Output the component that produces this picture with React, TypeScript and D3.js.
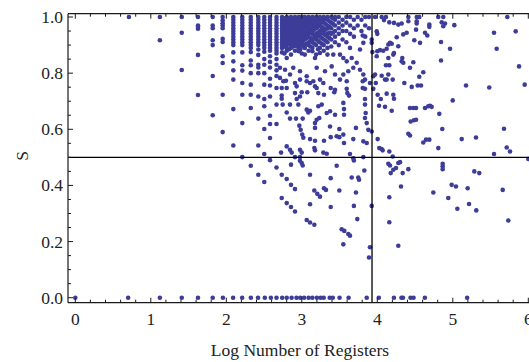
import React from "react";
import * as d3 from "d3";

// Canvas
const WIDTH = 529;
const HEIGHT = 362;

// Axis ticks
const xTickValues = [0, 1, 2, 3, 4, 5, 6];
const yTickValues = [0, 0.2, 0.4, 0.6, 0.8, 1.0];

// Reference lines
const thresholdLogN = 3.93;
const thresholdS = 0.5;

// Points lying on S = 0
const baselineLogN = [
  0, 0.7, 1.12, 1.41, 1.625, 1.82, 1.955, 2.09, 2.21, 2.325, 2.42, 2.51, 2.59, 2.665,
  2.74, 2.8, 2.865, 2.93, 2.98, 3.03, 3.09, 3.14, 3.2, 3.25, 3.29, 3.37, 3.41, 3.5,
  3.62, 3.86, 4.02, 4.22, 4.32, 4.34, 4.44, 4.48, 4.63, 5.19,
];

// Columns of points sharing one log register count
const columnLogN = [
  0.71, 1.12, 1.41, 1.625, 1.82, 1.952, 2.093, 2.212, 2.324, 2.424, 2.503, 2.579, 2.665,
  2.738, 2.8, 2.857, 2.91, 2.96, 3.0, 3.04, 3.09, 3.14, 3.19, 3.24, 3.29, 3.34, 3.39,
  3.44, 3.49, 3.54, 3.59, 3.64, 3.69, 3.74, 3.79, 3.84, 3.89,
  2.77, 2.83, 2.885, 2.935, 2.98, 3.02, 3.065, 3.115, 3.165, 3.215, 3.265, 3.315, 3.365, 3.415,
];

const columnS = [
  [1],
  [1, 0.917],
  [1, 0.944, 0.811],
  [1, 0.97, 0.965, 0.958, 0.865, 0.722],
  [1, 0.97, 0.96, 0.917, 0.9, 0.79, 0.65],
  [1, 0.988, 0.978, 0.97, 0.96, 0.922, 0.911, 0.86, 0.836, 0.723, 0.59],
  [1, 0.99, 0.98, 0.97, 0.96, 0.95, 0.94, 0.93, 0.92, 0.91, 0.9, 0.874, 0.842, 0.81, 0.777, 0.672, 0.542],
  [1, 0.99, 0.98, 0.97, 0.96, 0.95, 0.94, 0.93, 0.92, 0.91, 0.9, 0.874, 0.828, 0.809, 0.765, 0.723, 0.622, 0.501],
  [1, 0.99, 0.98, 0.97, 0.96, 0.95, 0.94, 0.93, 0.92, 0.91, 0.9, 0.89, 0.875, 0.845, 0.828, 0.8, 0.759, 0.723, 0.676, 0.47],
  [1, 0.99, 0.98, 0.97, 0.96, 0.95, 0.94, 0.93, 0.92, 0.91, 0.9, 0.884, 0.865, 0.83, 0.82, 0.8, 0.717, 0.638, 0.542, 0.438],
  [1, 0.99, 0.98, 0.97, 0.96, 0.95, 0.94, 0.93, 0.92, 0.91, 0.9, 0.89, 0.876, 0.85, 0.83, 0.8, 0.759, 0.708, 0.682, 0.601, 0.512, 0.412],
  [1, 0.99, 0.98, 0.97, 0.96, 0.95, 0.94, 0.93, 0.92, 0.91, 0.9, 0.89, 0.88, 0.86, 0.84, 0.82, 0.78, 0.756, 0.717, 0.648, 0.619, 0.569, 0.49],
  [1, 0.99, 0.98, 0.97, 0.96, 0.95, 0.94, 0.93, 0.92, 0.91, 0.9, 0.89, 0.88, 0.87, 0.85, 0.83, 0.81, 0.79, 0.747, 0.688, 0.619, 0.464],
  [1, 0.99, 0.98, 0.97, 0.96, 0.95, 0.94, 0.93, 0.92, 0.91, 0.9, 0.89, 0.874],
  [1, 0.99, 0.98, 0.97, 0.96, 0.95, 0.94, 0.93, 0.92, 0.91, 0.9, 0.89, 0.88, 0.854],
  [1, 0.99, 0.98, 0.97, 0.96, 0.95, 0.94, 0.93, 0.92, 0.91, 0.9, 0.89, 0.866],
  [1, 0.99, 0.98, 0.97, 0.96, 0.95, 0.94, 0.93, 0.92, 0.91, 0.9, 0.88],
  [1, 0.99, 0.98, 0.97, 0.96, 0.95, 0.94, 0.93, 0.92, 0.91, 0.9, 0.89, 0.878],
  [1, 0.99, 0.98, 0.97, 0.96, 0.95, 0.94, 0.93, 0.92, 0.91, 0.9, 0.87],
  [1, 0.99, 0.98, 0.97, 0.96, 0.95, 0.94, 0.93, 0.92, 0.9, 0.89, 0.866],
  [1, 0.99, 0.98, 0.97, 0.96, 0.95, 0.94, 0.93, 0.91, 0.9, 0.88],
  [1, 0.99, 0.98, 0.97, 0.96, 0.95, 0.94, 0.92, 0.91, 0.89, 0.878],
  [1, 0.99, 0.98, 0.97, 0.96, 0.94, 0.93, 0.92, 0.9, 0.866],
  [1, 0.99, 0.98, 0.97, 0.95, 0.94, 0.93, 0.91, 0.89, 0.872],
  [1, 0.99, 0.98, 0.96, 0.95, 0.94, 0.92, 0.9, 0.88],
  [1, 0.99, 0.97, 0.96, 0.94, 0.93, 0.91, 0.89, 0.866],
  [1, 0.98, 0.96, 0.94, 0.92, 0.895],
  [1, 0.99, 0.97, 0.95, 0.93, 0.91],
  [1, 0.98, 0.96, 0.94, 0.9],
  [0.99, 0.97, 0.95, 0.92],
  [1, 0.98, 0.95, 0.91],
  [1, 0.97, 0.94],
  [0.99, 0.96, 0.93],
  [1, 0.97],
  [0.99, 0.95],
  [1, 0.97, 0.93],
  [1, 0.96],
  [0.995, 0.985, 0.975, 0.965, 0.955, 0.945, 0.935, 0.925, 0.915, 0.905, 0.895, 0.87],
  [0.995, 0.985, 0.975, 0.965, 0.955, 0.945, 0.935, 0.925, 0.915, 0.905, 0.885],
  [0.995, 0.985, 0.975, 0.965, 0.955, 0.945, 0.935, 0.925, 0.915, 0.905, 0.895],
  [0.995, 0.985, 0.975, 0.965, 0.955, 0.945, 0.935, 0.925, 0.915, 0.895],
  [0.995, 0.985, 0.975, 0.965, 0.955, 0.945, 0.935, 0.925, 0.905, 0.885],
  [0.995, 0.985, 0.975, 0.965, 0.955, 0.945, 0.925, 0.915, 0.895],
  [0.995, 0.985, 0.975, 0.965, 0.945, 0.935, 0.925, 0.905],
  [0.995, 0.985, 0.975, 0.955, 0.945, 0.925, 0.915, 0.895],
  [0.995, 0.985, 0.965, 0.955, 0.935, 0.925, 0.905],
  [0.995, 0.975, 0.965, 0.945, 0.935, 0.915, 0.885],
  [0.995, 0.985, 0.965, 0.955, 0.925, 0.905],
  [0.995, 0.975, 0.955, 0.935, 0.915],
  [0.985, 0.965, 0.945, 0.925],
  [0.995, 0.975, 0.945],
];

// Scattered points left of the register threshold
const innerPoints: [number, number][] = [
  [3.175, 0.854], [3.417, 0.866], [3.506, 0.866], [3.55, 0.854], [3.595, 0.842], [3.661, 0.854],
  [3.727, 0.837], [3.638, 0.89], [3.771, 0.884], [3.807, 0.934], [3.815, 0.908], [3.935, 0.875],
  [2.711, 0.819], [2.778, 0.812], [2.887, 0.819], [2.844, 0.795], [2.976, 0.807], [3.065, 0.789],
  [3.197, 0.819], [3.307, 0.807], [3.396, 0.824], [3.44, 0.795], [3.55, 0.795], [3.616, 0.807],
  [3.682, 0.819], [3.771, 0.812], [3.815, 0.795], [3.837, 0.777],
  [2.711, 0.783], [2.755, 0.771], [2.976, 0.777], [3.152, 0.771], [3.241, 0.777], [3.506, 0.777],
  [2.79, 0.773], [2.734, 0.747], [2.8, 0.747], [2.91, 0.765], [2.932, 0.753], [3.065, 0.771],
  [3.109, 0.765], [3.175, 0.753], [3.285, 0.765], [3.383, 0.747], [3.44, 0.741], [3.595, 0.771],
  [3.595, 0.744], [3.807, 0.771], [3.807, 0.747], [3.837, 0.744], [3.903, 0.765],
  [2.734, 0.72], [2.734, 0.709], [2.91, 0.729], [2.999, 0.732], [3.073, 0.732], [2.932, 0.708],
  [2.976, 0.717], [3.219, 0.729], [3.294, 0.723], [3.197, 0.747], [3.43, 0.732], [3.603, 0.729],
  [3.625, 0.72], [3.837, 0.708],
  [2.747, 0.688], [2.844, 0.688], [2.8, 0.66], [2.954, 0.688], [3.065, 0.67], [3.086, 0.66],
  [3.109, 0.666], [3.219, 0.682], [3.264, 0.688], [3.33, 0.658], [3.374, 0.664], [3.44, 0.652],
  [3.55, 0.694], [3.559, 0.672], [3.559, 0.652], [3.837, 0.688], [3.846, 0.658],
  [2.844, 0.638], [2.923, 0.638], [3.012, 0.638], [2.967, 0.613], [2.985, 0.598], [3.006, 0.581],
  [3.02, 0.57], [3.175, 0.622], [3.197, 0.634], [3.232, 0.64], [3.175, 0.605], [3.374, 0.61],
  [3.497, 0.601], [3.462, 0.575], [3.55, 0.581], [3.717, 0.605], [3.837, 0.64], [3.86, 0.622],
  [3.881, 0.598],
  [3.109, 0.565], [3.175, 0.559], [3.294, 0.559], [3.383, 0.572], [3.497, 0.572], [3.559, 0.551],
  [3.682, 0.565], [3.815, 0.557], [3.86, 0.551],
  [2.725, 0.517], [2.8, 0.539], [2.844, 0.527], [2.866, 0.517], [2.976, 0.527], [2.999, 0.517],
  [3.166, 0.533], [3.175, 0.525], [3.285, 0.517], [3.33, 0.513],
  [2.91, 0.501], [2.976, 0.501], [3.682, 0.497], [3.815, 0.501],
  [2.734, 0.438], [2.8, 0.423], [2.857, 0.402], [2.91, 0.387], [2.857, 0.474], [2.734, 0.355],
  [2.8, 0.337], [2.857, 0.323], [2.91, 0.307], [2.976, 0.488], [2.999, 0.48], [3.012, 0.471],
  [3.109, 0.438], [3.109, 0.333], [3.166, 0.382], [3.205, 0.37], [3.241, 0.36], [3.294, 0.39],
  [3.32, 0.384], [3.065, 0.277], [3.109, 0.268], [3.166, 0.26], [3.383, 0.323], [3.383, 0.426],
  [3.462, 0.47], [3.497, 0.382], [3.528, 0.244], [3.563, 0.238], [3.616, 0.227], [3.638, 0.221],
  [3.55, 0.19], [3.661, 0.428], [3.748, 0.428], [3.758, 0.42], [3.717, 0.375], [3.69, 0.327],
  [3.735, 0.28], [3.828, 0.453], [3.69, 0.489], [3.638, 0.512], [3.926, 0.327], [3.903, 0.18],
  [3.89, 0.143], [3.926, 0.92], [3.926, 0.908], [3.926, 0.592],
];

// Scattered points right of the register threshold
const outerPoints: [number, number][] = [
  [3.97, 1], [4.058, 1], [4.089, 0.989], [4.115, 1], [4.159, 0.981], [4.221, 0.979], [4.278, 0.973],
  [4.323, 0.977], [4.411, 1], [4.411, 0.985], [4.522, 1], [4.522, 0.985], [4.522, 0.977], [4.556, 1],
  [4.689, 0.973], [4.689, 0.965], [4.808, 1], [4.853, 0.981], [4.874, 1], [4.897, 0.977],
  [4.874, 0.967], [5.02, 0.971], [5.722, 1],
  [3.992, 0.949], [4.0, 0.94], [4.389, 0.944], [4.344, 0.938], [4.257, 0.928], [4.513, 0.955],
  [4.632, 0.944], [4.662, 0.934], [5.546, 0.944], [5.833, 0.949], [4.49, 0.917], [4.566, 0.908],
  [4.844, 0.911], [4.168, 0.908], [4.146, 0.902], [4.191, 0.905], [4.278, 0.896], [4.036, 0.882],
  [4.079, 0.88], [4.0, 0.878], [4.124, 0.887], [4.221, 0.872], [4.212, 0.866], [3.992, 0.86],
  [4.146, 0.854], [4.331, 0.854], [4.323, 0.842], [4.344, 0.837], [4.477, 0.839], [4.963, 0.887],
  [5.581, 0.887], [4.844, 0.845], [4.433, 0.819], [4.115, 0.828], [4.159, 0.828], [4.609, 0.803],
  [4.556, 0.787], [5.877, 0.824], [3.97, 0.795], [3.947, 0.789], [4.058, 0.791], [4.146, 0.795],
  [4.102, 0.777], [4.124, 0.777], [4.204, 0.777], [4.358, 0.765], [4.456, 0.751], [4.535, 0.756],
  [4.579, 0.756], [5.175, 0.756], [5.483, 0.749], [5.952, 0.759], [3.947, 0.744], [3.98, 0.765],
  [4.005, 0.723], [4.124, 0.727], [4.212, 0.723], [4.221, 0.709], [4.046, 0.708], [4.023, 0.684],
  [4.102, 0.68], [4.191, 0.666], [4.999, 0.703], [4.433, 0.676], [4.477, 0.676], [4.513, 0.676],
  [4.632, 0.676], [4.675, 0.682], [4.698, 0.684], [4.72, 0.68], [4.821, 0.655], [4.442, 0.628],
  [4.486, 0.632], [4.513, 0.634], [4.861, 0.601], [5.678, 0.602], [4.411, 0.584], [4.433, 0.578],
  [4.005, 0.565], [4.026, 0.533], [4.609, 0.553], [4.645, 0.563], [4.689, 0.563], [5.118, 0.565],
  [5.307, 0.571], [4.058, 0.53], [4.071, 0.525], [4.159, 0.521], [4.808, 0.533], [5.714, 0.535],
  [5.758, 0.521], [5.546, 0.512], [4.204, 0.503],
  [4.146, 0.477], [4.168, 0.471], [4.278, 0.48], [4.301, 0.483], [4.248, 0.462], [4.212, 0.456],
  [4.178, 0.444], [4.336, 0.444], [4.411, 0.458], [4.866, 0.477], [4.866, 0.468], [4.866, 0.458],
  [5.285, 0.45], [5.351, 0.444], [4.314, 0.396], [4.159, 0.358], [4.159, 0.269], [4.278, 0.185],
  [4.742, 0.375], [4.94, 0.355], [4.985, 0.402], [5.042, 0.396], [5.06, 0.317], [5.197, 0.39],
  [5.215, 0.334], [5.311, 0.311], [5.661, 0.384], [5.735, 0.275], [6.0, 0.494],
];

const POINT_COLOR = "#3d3d99";
const AXIS_COLOR = "#1a1a1a";
const FONT = "'Liberation Serif', 'Times New Roman', serif";

export default function App() {
  const x = d3.scaleLinear().domain([-0.0967, 6.0225]).range([68, 530]);
  const y = d3.scaleLinear().domain([-0.0178, 1.0118]).range([302.7, 13.7]);

  const [x0, x1] = x.range();
  const [yBottom, yTop] = y.range();

  const points: [number, number][] = [
    ...baselineLogN.map((v) => [v, 0] as [number, number]),
    ...columnLogN.flatMap((v, i) => columnS[i].map((s) => [v, s] as [number, number])),
    ...innerPoints,
    ...outerPoints,
  ];

  const xMinor = d3.range(0, 6.01, 0.2).filter((v) => Math.abs(v - Math.round(v)) > 1e-6);
  const yMinor = d3.range(0, 1.001, 0.05).filter((v) => Math.abs(v * 5 - Math.round(v * 5)) > 1e-6);
  const fmtY = d3.format(".1f");

  return (
    <svg
      width={WIDTH}
      height={HEIGHT}
      viewBox={`0 0 ${WIDTH} ${HEIGHT}`}
      style={{ position: "absolute", left: 0, top: 0, background: "#fff" }}
    >
      <rect x={0} y={0} width={WIDTH} height={HEIGHT} fill="#fff" />

      {/* data points */}
      <g fill={POINT_COLOR}>
        {points.map(([px, py], i) => (
          <circle key={i} cx={x(px)} cy={y(py)} r={2.3} />
        ))}
      </g>

      {/* threshold lines */}
      <line x1={x0} x2={x1} y1={y(thresholdS)} y2={y(thresholdS)} stroke="#000" strokeWidth={1.3} />
      <line x1={x(thresholdLogN)} x2={x(thresholdLogN)} y1={yBottom} y2={yTop} stroke="#000" strokeWidth={1.3} />

      {/* frame */}
      <g stroke={AXIS_COLOR} strokeWidth={1.2} fill="none">
        <line x1={x0} x2={x1} y1={yBottom} y2={yBottom} />
        <line x1={x0} x2={x1} y1={yTop} y2={yTop} />
        <line x1={x0} x2={x0} y1={yBottom} y2={yTop} />
      </g>

      {/* ticks */}
      <g stroke={AXIS_COLOR} strokeWidth={1}>
        {xTickValues.map((v) => (
          <g key={`xt${v}`}>
            <line x1={x(v)} x2={x(v)} y1={yBottom} y2={yBottom - 5} />
            <line x1={x(v)} x2={x(v)} y1={yTop} y2={yTop + 5} />
          </g>
        ))}
        {xMinor.map((v) => (
          <g key={`xm${v}`}>
            <line x1={x(v)} x2={x(v)} y1={yBottom} y2={yBottom - 3} />
            <line x1={x(v)} x2={x(v)} y1={yTop} y2={yTop + 3} />
          </g>
        ))}
        {yTickValues.map((v) => (
          <line key={`yt${v}`} x1={x0} x2={x0 + 5} y1={y(v)} y2={y(v)} />
        ))}
        {yMinor.map((v) => (
          <line key={`ym${v}`} x1={x0} x2={x0 + 3} y1={y(v)} y2={y(v)} />
        ))}
      </g>

      {/* tick labels */}
      <g fontFamily={FONT} fontSize={17.5} fill="#222">
        {xTickValues.map((v) => (
          <text key={`xl${v}`} x={x(v)} y={324.5} textAnchor="middle">
            {v}
          </text>
        ))}
        {yTickValues.map((v) => (
          <text key={`yl${v}`} x={63} y={y(v)} textAnchor="end" dominantBaseline="central">
            {fmtY(v)}
          </text>
        ))}
      </g>

      {/* axis titles */}
      <text x={300} y={356} textAnchor="middle" fontFamily={FONT} fontSize={17.5} fill="#222">
        Log Number of Registers
      </text>
      <text
        transform="translate(22,156) rotate(-90)"
        textAnchor="middle"
        dominantBaseline="central"
        fontFamily={FONT}
        fontSize={17.5}
        fill="#222"
      >
        S
      </text>
    </svg>
  );
}
